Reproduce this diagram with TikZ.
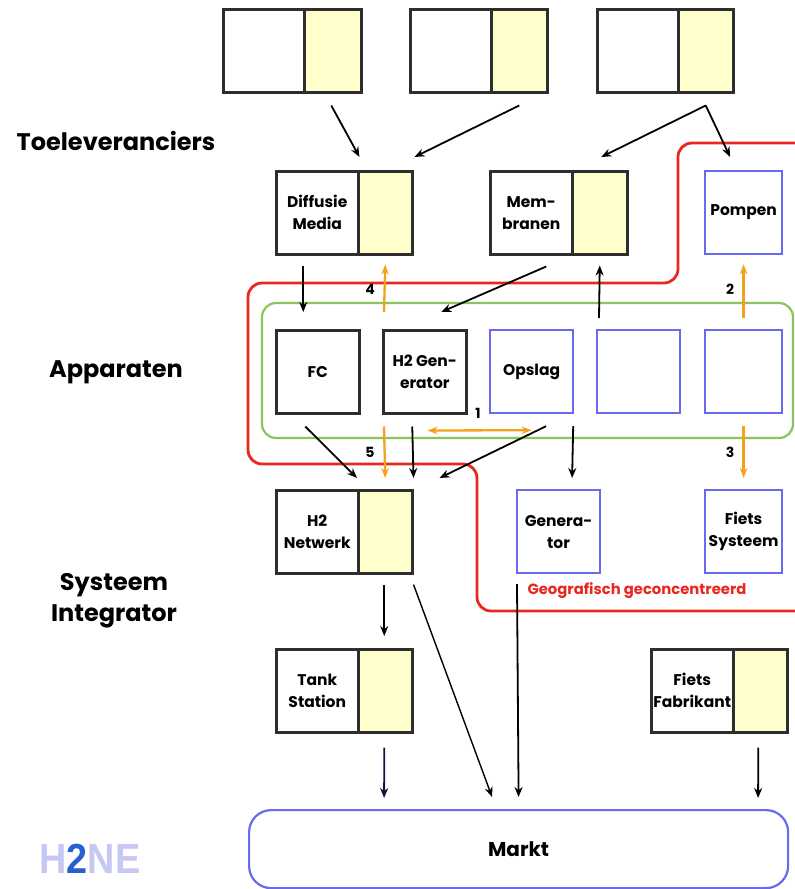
\documentclass[tikz,border=0pt]{standalone}
\usepackage{fontspec}
\setmainfont{Poppins}
\newfontfamily\logofont{Liberation Sans}
\usetikzlibrary{arrows.meta}
\definecolor{boxgray}{HTML}{2E2E2E}
\definecolor{yel}{HTML}{FFFFCC}
\definecolor{bluebox}{HTML}{6A6AEE}
\definecolor{redl}{HTML}{E8281E}
\definecolor{greenl}{HTML}{8CC45C}
\definecolor{orangel}{HTML}{F5A21B}
\definecolor{lav}{HTML}{C6C8F4}
\definecolor{logoblue}{HTML}{2A5FCF}
\tikzset{
  base/.style={line width=2.5pt, inner sep=0pt, align=center, anchor=north west, minimum height=83pt, font=\bfseries\fontsize{15.5}{22}\selectfont},
  wbox/.style={base, draw=boxgray, fill=white},
  ybox/.style={base, draw=boxgray, fill=yel},
  bbox/.style={base, line width=2.2pt, draw=bluebox, fill=white},
  arr/.style={line width=1.8pt, draw=black, -{Stealth[length=10pt,width=8pt]}},
  oarr/.style={line width=2.3pt, draw=orangel, -{Stealth[length=10pt,width=7.5pt]}},
  oarrb/.style={line width=2.3pt, draw=orangel, {Stealth[length=10pt,width=7.5pt]}-{Stealth[length=10pt,width=7.5pt]}},
  num/.style={font=\bfseries\fontsize{14}{16}\selectfont, inner sep=0pt},
  lbl/.style={font=\bfseries\fontsize{24}{31}\selectfont, align=center, inner sep=0pt},
}
\begin{document}
\begin{tikzpicture}[x=1pt,y=-1pt]
\useasboundingbox[fill=white] (0,0) rectangle (795,889);
% region lines
\draw[redl, line width=2.8pt, rounded corners=14pt] (797,143) -- (678,143) -- (678,283) -- (248,283) -- (248,464) -- (477,464) -- (477,611) -- (797,611);
\draw[greenl, line width=2.2pt, rounded corners=14pt] (262,303) rectangle (793,438);
% labels
\node[lbl] (lt) at (116,141) {Toeleveranciers};
\node[lbl] (la) at (116,372) {Apparaten};
\node[lbl] (ls) at (114,601) {Systeem\\Integrator};
% top row
\node[wbox, minimum width=81pt] (t1) at (222,8) {};
\node[ybox, minimum width=57pt] (t1y) at (303,8) {};
\node[wbox, minimum width=81pt] (t2) at (409,8) {};
\node[ybox, minimum width=56pt] (t2y) at (490,8) {};
\node[wbox, minimum width=81pt] (t3) at (596,8) {};
\node[ybox, minimum width=55pt] (t3y) at (677,8) {};
% row 2
\node[wbox, minimum width=82pt] (dm) at (275,170) {Diffusie\\Media};
\node[ybox, minimum width=54pt] (dmy) at (357,170) {};
\node[wbox, minimum width=82pt] (mb) at (489,170) {Mem-\\branen};
\node[ybox, minimum width=55pt] (mby) at (571,170) {};
\node[bbox, minimum width=77pt] (pomp) at (704,170) {Pompen};
% row 3
\node[wbox, minimum width=83pt] (fc) at (275,329) {FC};
\node[wbox, minimum width=83pt] (h2g) at (382,329) {H2 Gen-\\erator};
\node[bbox, minimum width=83pt] (ops) at (489,329) {Opslag};
\node[bbox, minimum width=83pt] (e1) at (596,329) {};
\node[bbox, minimum width=77pt] (e2) at (704,329) {};
% row 4
\node[wbox, minimum width=82pt] (h2n) at (275,489) {H2\\Netwerk};
\node[ybox, minimum width=54pt] (h2ny) at (357,489) {};
\node[bbox, minimum width=83pt] (gen) at (516,489) {Genera-\\tor};
\node[bbox, minimum width=77pt] (fs) at (704,489) {Fiets\\Systeem};
\node[font=\bfseries\fontsize{14.8}{16}\selectfont, text=redl, inner sep=0pt] (geo) at (637,591) {Geografisch geconcentreerd};
% row 5
\node[wbox, minimum width=82pt] (ts) at (275,648) {Tank\\Station};
\node[ybox, minimum width=54pt] (tsy) at (357,648) {};
\node[wbox, minimum width=82pt] (ff) at (650,648) {Fiets\\Fabrikant};
\node[ybox, minimum width=54pt] (ffy) at (732,648) {};
% markt
\node[draw=bluebox, line width=2.2pt, rounded corners=22pt, anchor=north west, minimum width=539pt, minimum height=78pt, font=\bfseries\fontsize{20}{22}\selectfont] (markt) at (248,809) {Markt};
% logo
\node[font=\logofont\bfseries\fontsize{42}{42}\selectfont, xscale=0.9, inner sep=0pt] (logo) at (90,859) {\textcolor{lav}{H}\textcolor{logoblue}{2}\textcolor{lav}{NE}};
% arrows top
\draw[arr] ([xshift=-1.5pt,yshift=-12pt]t1y.south) -- ([yshift=13pt]dm.north east);
\draw[arr] ([yshift=-12pt]t2y.south) -- ([xshift=1pt,yshift=13pt]dmy.north east);
\draw[arr] ([yshift=-12pt]t3y.south) -- ([xshift=1.5pt,yshift=13pt]mby.north);
\draw[arr] ([yshift=-12pt]t3y.south) -- ([xshift=-13.5pt,yshift=13pt]pomp.north);
% row 2 - 3
\draw[arr] ([xshift=-14pt,yshift=-10pt]dm.south) -- ([xshift=-14.5pt,yshift=17pt]fc.north);
\draw[oarr] ([xshift=2pt,yshift=17pt]h2g.north west) -- ([yshift=-9pt]dmy.south);
\node[num] (n4) at (370,289) {4};
\draw[arr] ([xshift=15pt,yshift=-11pt]mb.south) -- ([xshift=16.5pt,yshift=17pt]h2g.north);
\draw[arr] ([xshift=3pt,yshift=11pt]e1.north west) -- ([yshift=-10pt]mby.south);
\draw[oarr] ([yshift=11pt]e2.north) -- ([yshift=-9pt]pomp.south);
\node[num] (n2) at (730,289) {2};
% row 3 - 4
\draw[oarrb] ([xshift=-40pt,yshift=-16pt]h2g.south east) -- ([yshift=-16pt]ops.south);
\node[num] (n1) at (478,413) {1};
\draw[arr] ([xshift=-12.5pt,yshift=-12pt]fc.south) -- ([yshift=11pt]h2ny.north west);
\draw[oarr] ([xshift=2pt,yshift=-12pt]h2g.south west) -- ([yshift=11pt]h2ny.north);
\node[num] (n5) at (370,452) {5};
\draw[arr] ([xshift=-12.5pt,yshift=-12pt]h2g.south) -- ([yshift=11pt]h2ny.north east);
\draw[arr] ([xshift=14.5pt,yshift=-12pt]ops.south) -- ([xshift=26pt,yshift=11pt]h2ny.north east);
\draw[arr] ([xshift=-1pt,yshift=-12pt]ops.south east) -- ([xshift=13.5pt,yshift=11pt]gen.north);
\draw[oarr] ([yshift=-12pt]e2.south) -- ([yshift=11pt]fs.north);
\node[num] (n3) at (730,452) {3};
% row 4 - 5
\draw[arr] ([xshift=-1pt,yshift=-10pt]h2ny.south) -- ([xshift=-1pt,yshift=12pt]tsy.north);
\draw[arr, line width=1.4pt] ([yshift=-10pt]h2ny.south east) -- ([xshift=-26.5pt,yshift=12pt]markt.north);
\draw[arr] ([xshift=1pt,yshift=-10pt]gen.south west) -- ([yshift=12pt]markt.north);
% row 5 - markt
\draw[arr, draw={rgb,255:red,20;green,20;blue,60}] ([xshift=-1pt,yshift=-14pt]tsy.south) -- ([xshift=-134.5pt,yshift=11pt]markt.north);
\draw[arr] ([xshift=-2pt,yshift=-14pt]ffy.south) -- ([xshift=239.5pt,yshift=11pt]markt.north);
\end{tikzpicture}
\end{document}
